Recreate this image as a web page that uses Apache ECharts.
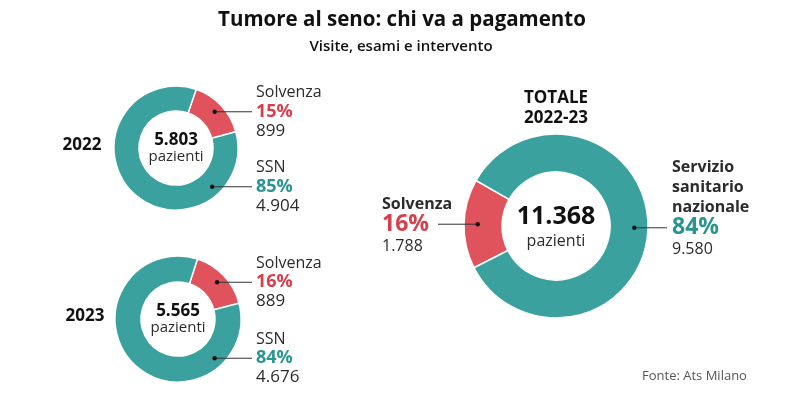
<!DOCTYPE html>
<html><head><meta charset="utf-8">
<script src="https://cdn.jsdelivr.net/npm/echarts@6/dist/echarts.min.js"></script>
<style>html,body{margin:0;padding:0;background:#fff}#c{width:800px;height:402px}</style>
</head><body><div id="c"></div>
<script>
// ---- data ----
const panels = ['2022', '2023', 'TOTALE\n2022-23'];
const categories = ['Solvenza', 'SSN'];
const solvenza = [899, 889, 1788];
const ssn = [4904, 4676, 9580];
const ssnLabels = ['SSN', 'SSN', 'Servizio\nsanitario\nnazionale'];
const titleText = 'Tumore al seno: chi va a pagamento';
const subtitleText = 'Visite, esami e intervento';
const sourceText = 'Fonte: Ats Milano';
const unitText = 'pazienti';

// ---- style / layout ----
const RED = '#e0525c', TEAL = '#3aa19e', RED_T = '#d63f4c', TEAL_T = '#2a9590', INK = '#2b2b2b';
const FONT = '"Open Sans", sans-serif';
const layout = [
  {center:[176,148], r:[37,62], start:71, big:false, dotAngles:[null,137], lineEnd:[252,252], labelX:[256,256], yearPos:[82,145]},
  {center:[178,319], r:[37,63], start:72, big:false, dotAngles:[null,137], lineEnd:[252,252], labelX:[256,256], yearPos:[85,316]},
  {center:[556,226], r:[54,92], start:207, big:true, dotAngles:[null,null], lineEnd:[438,667], labelX:[382,672], yearPos:[556,108]}
];
const smallRich = {
  name:{fontFamily:FONT, fontSize:16, color:INK, lineHeight:19},
  pctR:{fontFamily:FONT, fontSize:18, fontWeight:'bold', color:RED_T, lineHeight:19},
  pctT:{fontFamily:FONT, fontSize:18, fontWeight:'bold', color:TEAL_T, lineHeight:19},
  val:{fontFamily:FONT, fontSize:17, color:INK, lineHeight:19}
};
const bigRich = {
  name:{fontFamily:FONT, fontSize:16, fontWeight:'bold', color:INK, lineHeight:20},
  pctR:{fontFamily:FONT, fontSize:23, fontWeight:'bold', color:RED_T, lineHeight:20},
  pctT:{fontFamily:FONT, fontSize:23, fontWeight:'bold', color:TEAL_T, lineHeight:20},
  val:{fontFamily:FONT, fontSize:16, color:INK, lineHeight:24}
};

function fmt(n){ return String(n).replace(/\B(?=(\d{3})+(?!\d))/g, '.'); }
function nameOf(i, k){ return k === 0 ? categories[0] : ssnLabels[i]; }

function dotPoint(i, k){
  const L = layout[i];
  const tot = solvenza[i] + ssn[i];
  const s0 = solvenza[i] / tot, s1 = ssn[i] / tot;
  const a0 = 90 - L.start;
  let ang = L.dotAngles[k];
  if (ang == null) ang = a0 + (k === 0 ? s0 * 180 : s0 * 360 + s1 * 180);
  const rr = L.r[0] + 0.64 * (L.r[1] - L.r[0]);
  const t = ang * Math.PI / 180;
  return [L.center[0] + rr * Math.sin(t), L.center[1] - rr * Math.cos(t)];
}

const series = layout.map((L, i) => {
  const tot = solvenza[i] + ssn[i];
  const rich = L.big ? bigRich : smallRich;
  return {
    type:'pie', center:L.center, radius:L.r, startAngle:L.start, clockwise:true,
    avoidLabelOverlap:false, silent:true, animation:false,
    itemStyle:{borderColor:'#fff', borderWidth:1.5},
    data:[
      {name:categories[0], value:solvenza[i], itemStyle:{color:RED}},
      {name:categories[1], value:ssn[i], itemStyle:{color:TEAL}}
    ],
    label:{
      show:true, position:'outside', align:'left',
      formatter: p => {
        const k = p.dataIndex;
        const names = nameOf(i, k).split('\n').map(s => '{name|' + s + '}').join('\n');
        const pct = Math.round(p.value / tot * 100) + '%';
        return names + '\n{' + (k === 0 ? 'pctR' : 'pctT') + '|' + pct + '}\n{val|' + fmt(p.value) + '}';
      },
      rich: rich
    },
    labelLine:{show:false},
    labelLayout: p => {
      const k = p.dataIndex;
      const d = dotPoint(i, k);
      const nLines = nameOf(i, k).split('\n').length;
      const off = nLines * rich.name.lineHeight + rich.pctR.lineHeight / 2;
      return { x: L.labelX[k], y: d[1] - off, align:'left', verticalAlign:'top' };
    }
  };
});

const graphic = [];
const txt = (x, y, text, size, weight, color, align, lh) => ({
  type:'text', x:x, y:y, z:100, silent:true,
  style:{text:text, fontFamily:FONT, fontSize:size, fontWeight:weight, fill:color,
         textAlign:align || 'center', textVerticalAlign:'middle', lineHeight:lh || size * 1.2}
});
graphic.push(txt(402, 20, titleText, 20.5, 'bold', '#111'));
graphic.push(txt(401, 47, subtitleText, 15, 600, '#111'));
graphic.push(txt(642, 376, sourceText, 13, 'normal', '#555', 'left'));
layout.forEach((L, i) => {
  const tot = solvenza[i] + ssn[i];
  graphic.push(txt(L.yearPos[0], L.yearPos[1], panels[i], 17, 'bold', '#111', 'center', 20));
  if (L.big) {
    graphic.push(txt(L.center[0], L.center[1] - 9, fmt(tot), 25, 'bold', '#111'));
    graphic.push(txt(L.center[0], L.center[1] + 15, unitText, 16, 'normal', INK));
  } else {
    graphic.push(txt(L.center[0], L.center[1] - 8, fmt(tot), 17, 'bold', '#111'));
    graphic.push(txt(L.center[0], L.center[1] + 9, unitText, 15, 'normal', INK));
  }
  [0, 1].forEach(k => {
    const d = dotPoint(i, k);
    graphic.push({type:'polyline', z:99, silent:true,
      shape:{points:[[d[0], d[1]], [L.lineEnd[k], d[1]]]}, style:{stroke:'#333', lineWidth:1, fill:null}});
    graphic.push({type:'circle', z:100, silent:true, shape:{cx:d[0], cy:d[1], r:2.2}, style:{fill:'#111'}});
  });
});

const chart = echarts.init(document.getElementById('c'), null, {renderer:'canvas'});
chart.setOption({backgroundColor:'#fff', animation:false, series:series, graphic:graphic});
</script></body></html>
